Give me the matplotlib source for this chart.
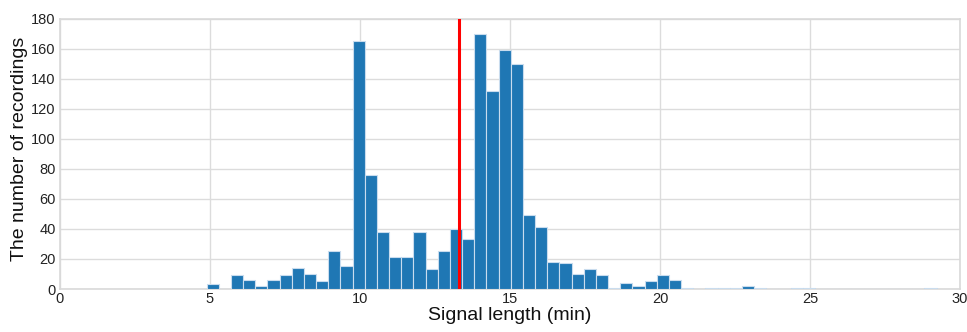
import numpy as np
import matplotlib
matplotlib.use("Agg")
import matplotlib.pyplot as plt

# Histogram of recording lengths: 60 equal bins spanning the shortest to the longest signal
length_min = 4.89
length_max = 29.22
n_bins = 60
counts = [3, 0, 9, 6, 2, 6, 9, 14, 10, 5,
          25, 15, 165, 76, 38, 21, 21, 38, 13, 25,
          40, 33, 170, 132, 159, 150, 49, 41, 18, 17,
          10, 13, 9, 1, 4, 2, 5, 9, 6, 1,
          0, 1, 1, 1, 2, 1, 0, 0, 1, 1,
          0, 0, 0, 0, 0, 0, 0, 0, 0, 1]
mean_length = 13.31

x_ticks = [0, 5, 10, 15, 20, 25, 30]
y_ticks = [0, 20, 40, 60, 80, 100, 120, 140, 160, 180]

plt.rcParams['font.family'] = ['Liberation Sans', 'DejaVu Sans']

fig = plt.figure(figsize=(9.67, 3.32), dpi=100)
ax = fig.add_axes([0.062, 0.1295, 0.9308, 0.8145])

edges = np.linspace(length_min, length_max, n_bins + 1)
ax.bar(edges[:-1], counts, width=np.diff(edges), align='edge',
       color='#1f77b4', edgecolor='#c9dcee', linewidth=0.8, zorder=2)

ax.axvline(mean_length, color='red', linewidth=2.2, zorder=3)

ax.set_xlim(0, 30)
ax.set_ylim(0, 180)
ax.set_xticks(x_ticks)
ax.set_yticks(y_ticks)
ax.set_axisbelow(True)
ax.grid(True, color='#dcdcdc', linewidth=1.0)
for s in ax.spines.values():
    s.set_color('#d9d9d9')
    s.set_linewidth(1.2)
    s.set_zorder(1.5)
ax.tick_params(axis='both', length=0, labelsize=10.5, colors='#222222')
ax.tick_params(axis='x', pad=2)
ax.tick_params(axis='y', pad=3)

ax.set_xlabel('Signal length (min)', fontsize=14, labelpad=1, color='#111111')
ax.set_ylabel('The number of recordings', fontsize=14, color='#111111')
ax.yaxis.set_label_coords(-0.035, 0.52)

fig.savefig('out.png', dpi=100)
